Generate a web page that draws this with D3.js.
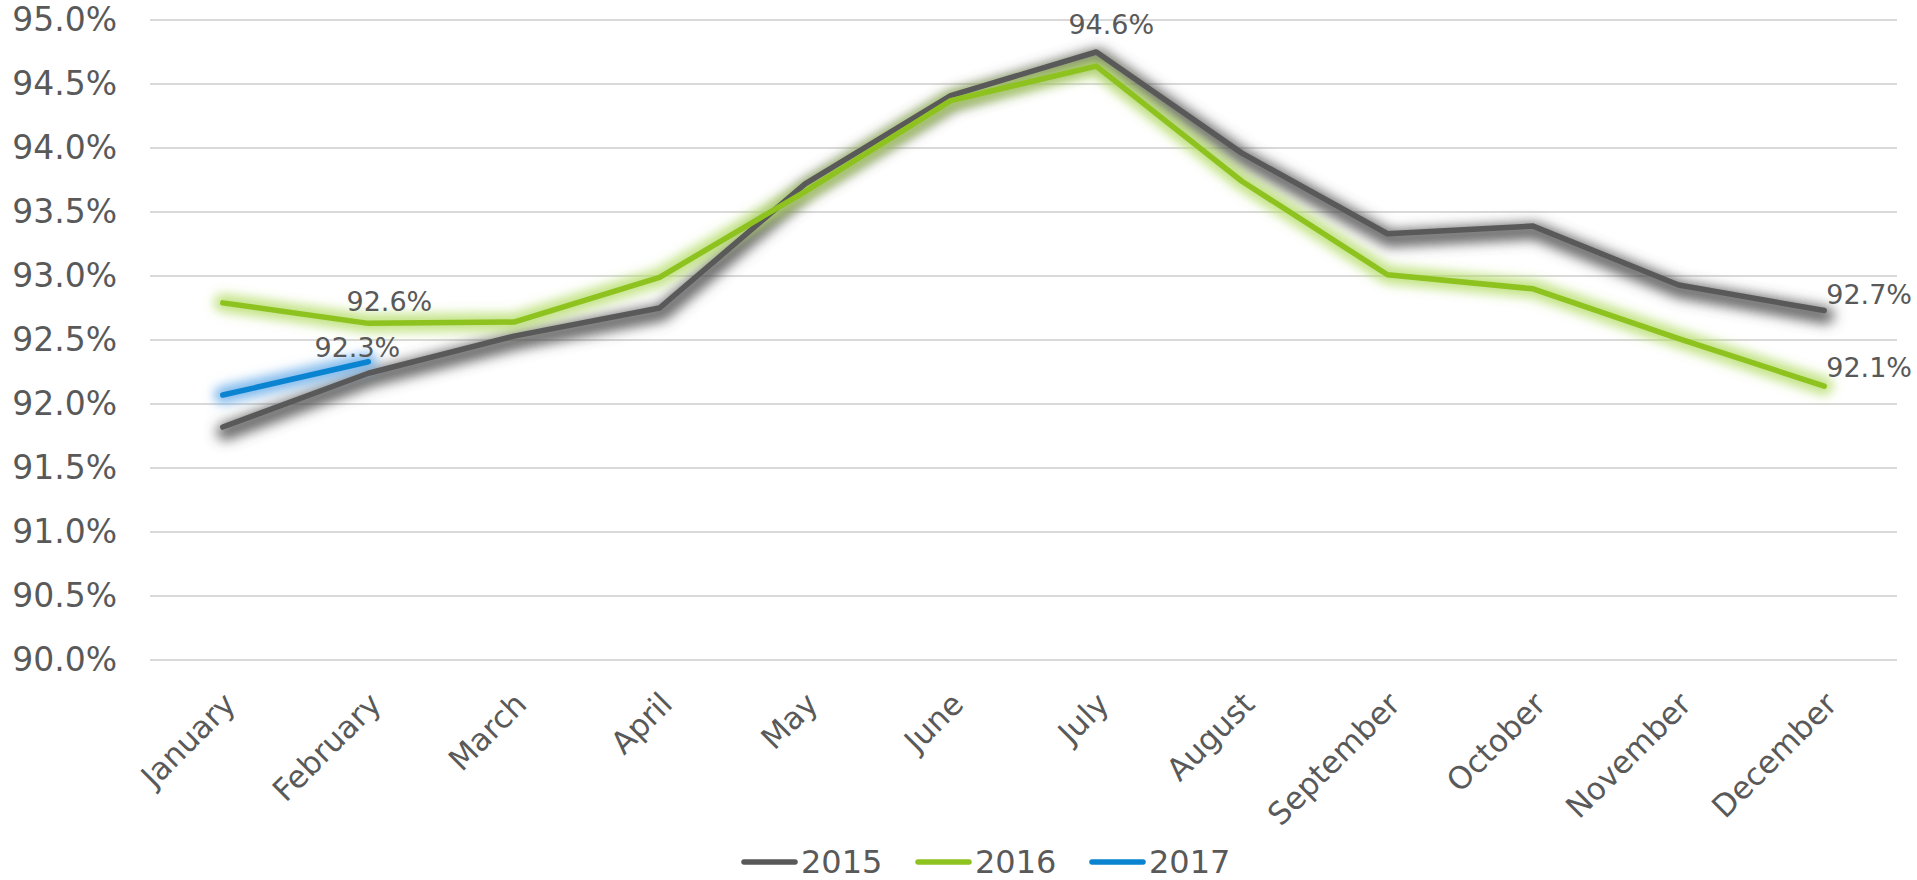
<!DOCTYPE html>
<html lang="en">
<head>
    <meta charset="UTF-8">
    <title>Monthly rate 2015-2017</title>
    <script src="https://d3js.org/d3.v7.min.js"></script>
    <style>
    body {
        margin: 0;
        background: #fff;
    }

    text {
        font-family: "DejaVu Sans", sans-serif;
        fill: #595959;
    }
    </style>
</head>
<body>
    <div class="content"></div>
    <script>
    // data
    var months = ['January', 'February', 'March', 'April', 'May', 'June',
        'July', 'August', 'September', 'October', 'November', 'December'];
    var years = ['2015', '2016', '2017'];
    var values2015 = [91.82, 92.24, 92.53, 92.75, 93.72, 94.41, 94.75, 93.96, 93.33, 93.39, 92.93, 92.73];
    var values2016 = [92.79, 92.63, 92.64, 92.99, 93.66, 94.37, 94.64, 93.74, 93.01, 92.90, 92.51, 92.14];
    var values2017 = [92.07, 92.33];
    var yTicks = [90.0, 90.5, 91.0, 91.5, 92.0, 92.5, 93.0, 93.5, 94.0, 94.5, 95.0];
    // which points carry a value label
    var labelled = [
        { year: '2016', month: 'February' },
        { year: '2016', month: 'July' },
        { year: '2017', month: 'February' },
        { year: '2015', month: 'December' },
        { year: '2016', month: 'December' }
    ];

    var p = {
        width: 1917,
        height: 880,
        left: 150,
        right: 1897,
        top: 20,
        bottom: 660
    };

    var colors = { '2015': '#595959', '2016': '#8dc21f', '2017': '#0a84d0' };
    var glow = { '2015': '#4d4d4d', '2016': '#b3dc66', '2017': '#62a9e8' };

    var series = [values2015, values2016, values2017].map(function(vals, i) {
        return {
            year: years[i],
            points: vals.map(function(v, j) { return { month: months[j], value: v }; })
        };
    });

    var svg = d3.select('.content')
        .append('svg')
        .attr('width', p.width)
        .attr('height', p.height);

    var x = d3.scalePoint()
        .domain(months)
        .range([p.left, p.right])
        .padding(0.5);

    var y = d3.scaleLinear()
        .domain([90, 95])
        .range([p.bottom, p.top]);

    // filters for the soft shadow / glow under each line
    var defs = svg.append('defs');
    years.forEach(function(yr) {
        var f = defs.append('filter')
            .attr('id', 'glow' + yr)
            .attr('filterUnits', 'userSpaceOnUse')
            .attr('x', 0).attr('y', 0)
            .attr('width', p.width).attr('height', p.height);
        var isShadow = yr === '2015';
        f.append('feGaussianBlur')
            .attr('in', 'SourceAlpha')
            .attr('stdDeviation', isShadow ? 6.5 : 5.5)
            .attr('result', 'blur');
        f.append('feOffset')
            .attr('in', 'blur')
            .attr('dx', isShadow ? 2 : 0)
            .attr('dy', isShadow ? 5 : 0)
            .attr('result', 'off');
        f.append('feFlood')
            .attr('flood-color', glow[yr])
            .attr('flood-opacity', isShadow ? 0.9 : 0.8);
        f.append('feComposite')
            .attr('in2', 'off')
            .attr('operator', 'in');
    });

    // gridlines
    svg.append('g')
        .selectAll('line')
        .data(yTicks)
        .enter()
        .append('line')
        .attr('x1', p.left)
        .attr('x2', p.right)
        .attr('y1', function(d) { return y(d); })
        .attr('y2', function(d) { return y(d); })
        .attr('stroke', '#d9d9d9')
        .attr('stroke-width', 2);

    // y axis labels
    var yAxis = d3.axisLeft(y)
        .tickValues(yTicks)
        .tickSize(0)
        .tickPadding(33)
        .tickFormat(function(d) { return d3.format('.1f')(d) + '%'; });

    svg.append('g')
        .attr('transform', 'translate(' + p.left + ',0)')
        .call(yAxis)
        .call(function(g) { g.select('.domain').remove(); })
        .selectAll('text')
        .attr('font-size', 33)
        .attr('font-family', '"DejaVu Sans", sans-serif')
        .attr('fill', '#595959');

    // x axis labels, rotated
    var xAxis = d3.axisBottom(x).tickSize(0).tickPadding(0);

    svg.append('g')
        .attr('transform', 'translate(0,' + p.bottom + ')')
        .call(xAxis)
        .call(function(g) { g.select('.domain').remove(); })
        .selectAll('text')
        .attr('font-size', 31)
        .attr('font-family', '"DejaVu Sans", sans-serif')
        .attr('fill', '#595959')
        .attr('text-anchor', 'end')
        .attr('dy', 0)
        .attr('y', 0)
        .attr('transform', 'translate(14,46) rotate(-45)');

    var line = d3.line()
        .x(function(d) { return x(d.month); })
        .y(function(d) { return y(d.value); });

    // glows first, then the lines on top
    var glowLayer = svg.append('g');
    var lineLayer = svg.append('g');

    series.forEach(function(s) {
        glowLayer.append('path')
            .datum(s.points)
            .attr('d', line)
            .attr('fill', 'none')
            .attr('stroke', colors[s.year])
            .attr('stroke-width', s.year === '2015' ? 16 : 18)
            .attr('stroke-linejoin', 'round')
            .attr('stroke-linecap', 'round')
            .attr('filter', 'url(#glow' + s.year + ')');
    });

    series.forEach(function(s) {
        lineLayer.append('path')
            .datum(s.points)
            .attr('d', line)
            .attr('fill', 'none')
            .attr('stroke', colors[s.year])
            .attr('stroke-width', 5.5)
            .attr('stroke-linejoin', 'round')
            .attr('stroke-linecap', 'round');
    });

    // value labels; offsets match where they sit in the original
    var labelShift = {
        '2016 February': { dx: 21, dy: -12, anchor: 'middle' },
        '2016 July': { dx: 15, dy: -32, anchor: 'middle' },
        '2017 February': { dx: -11, dy: -5, anchor: 'middle' },
        '2015 December': { dx: 2, dy: -7, anchor: 'start' },
        '2016 December': { dx: 2, dy: -9, anchor: 'start' }
    };

    labelled.forEach(function(l) {
        var s = series[years.indexOf(l.year)];
        var pt = s.points[months.indexOf(l.month)];
        var sh = labelShift[l.year + ' ' + l.month];
        svg.append('text')
            .attr('x', x(pt.month) + sh.dx)
            .attr('y', y(pt.value) + sh.dy)
            .attr('text-anchor', sh.anchor)
            .attr('font-size', 27)
            .text(d3.format('.1f')(pt.value) + '%');
    });

    // legend
    var legend = svg.append('g')
        .attr('transform', 'translate(742,862)');

    var item = legend.selectAll('g')
        .data(years)
        .enter()
        .append('g')
        .attr('transform', function(d, i) { return 'translate(' + (i * 174) + ',0)'; });

    item.append('line')
        .attr('x1', 2)
        .attr('x2', 53)
        .attr('stroke', function(d) { return colors[d]; })
        .attr('stroke-width', 5.5)
        .attr('stroke-linecap', 'round');

    item.append('text')
        .attr('x', 59)
        .attr('y', 11)
        .attr('font-size', 32)
        .text(function(d) { return d; });
    </script>
</body>
</html>
